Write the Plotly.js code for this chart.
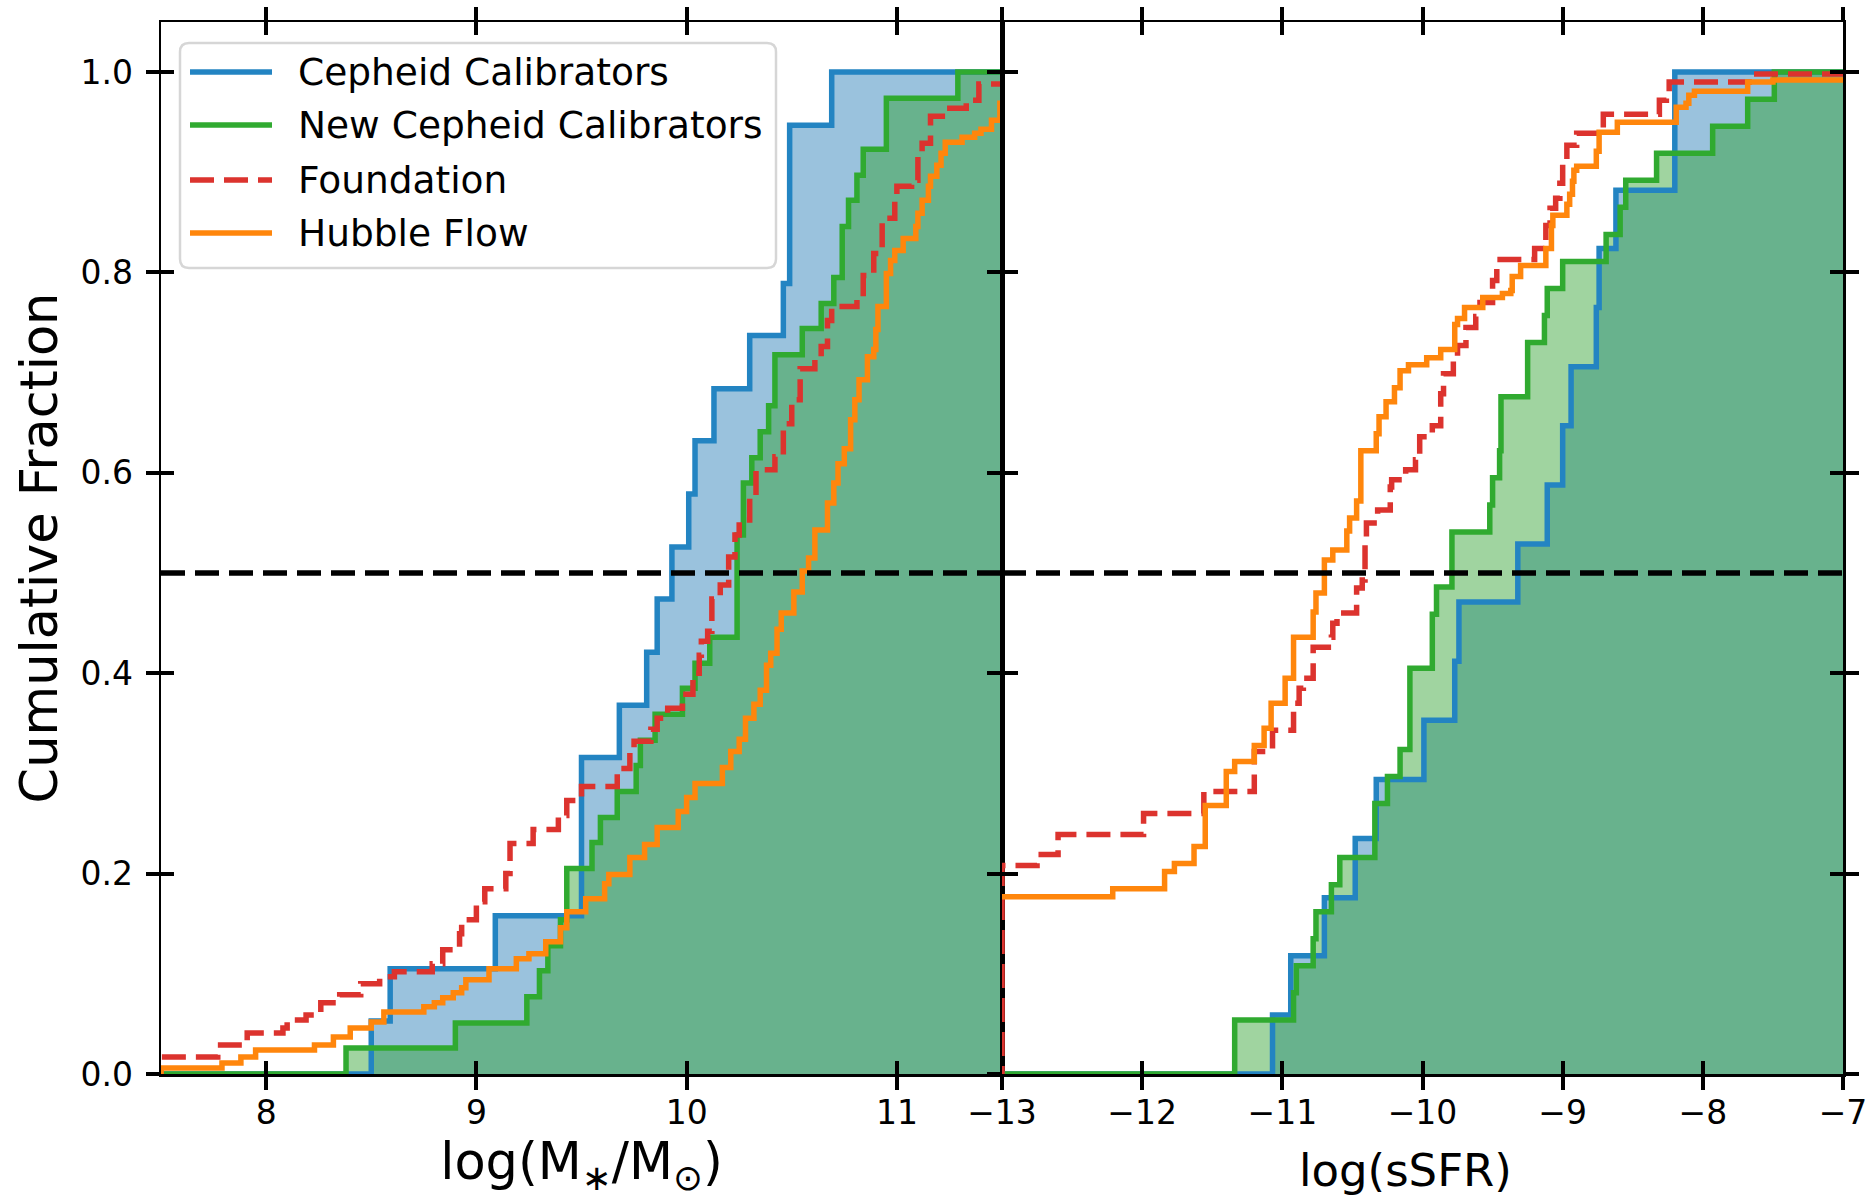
<!DOCTYPE html>
<html>
<head>
<meta charset="utf-8">
<script src="https://cdn.plot.ly/plotly-3.0.1.min.js"></script>
<style>
  html, body { margin: 0; padding: 0; background: #ffffff; }
  #chart { width: 1872px; height: 1198px; }
</style>
</head>
<body>
<div id="chart"></div>
<script>
// ---- sample names ----
const seriesNames = ['Cepheid Calibrators', 'New Cepheid Calibrators', 'Foundation', 'Hubble Flow'];

// ---- stellar mass CDFs: jump positions (log M*/Msun) and cumulative fraction after each jump ----
const massCephX = [8.50, 8.59, 9.09, 9.50, 9.68, 9.81, 9.86, 9.93, 10.01, 10.04, 10.13, 10.30, 10.46, 10.49, 10.69];
const massCephY = [0.053, 0.105, 0.158, 0.316, 0.368, 0.421, 0.474, 0.526, 0.579, 0.632, 0.684, 0.737, 0.789, 0.947, 1.000];

const massNewX = [8.38, 8.90, 9.24, 9.30, 9.34, 9.40, 9.43, 9.55, 9.59, 9.67, 9.76, 9.78, 9.85, 9.98, 10.04, 10.11,
                  10.24, 10.27, 10.31, 10.35, 10.39, 10.42, 10.55, 10.64, 10.70, 10.74, 10.77, 10.81, 10.84, 10.95, 11.29];
const massNewY = [0.026, 0.051, 0.077, 0.103, 0.128, 0.154, 0.205, 0.231, 0.256, 0.282, 0.308, 0.333, 0.359, 0.385, 0.410, 0.436,
                  0.538, 0.590, 0.615, 0.641, 0.667, 0.718, 0.744, 0.769, 0.795, 0.846, 0.872, 0.897, 0.923, 0.974, 1.000];

const massFoundX = [7.50, 7.77, 7.91, 8.08, 8.10, 8.19, 8.26, 8.35, 8.45, 8.54, 8.61, 8.79, 8.84, 8.92, 8.93, 9.00,
                    9.04, 9.14, 9.16, 9.27, 9.39, 9.43, 9.50, 9.67, 9.73, 9.75, 9.83, 9.86, 9.91, 9.98, 10.03, 10.06,
                    10.07, 10.10, 10.12, 10.16, 10.20, 10.23, 10.25, 10.30, 10.33, 10.42, 10.46, 10.50, 10.54, 10.61,
                    10.64, 10.67, 10.69, 10.81, 10.84, 10.89, 10.93, 10.99, 11.00, 11.07, 11.10, 11.12, 11.16, 11.23,
                    11.33, 11.39];
const massFoundY = [0.017, 0.029, 0.041, 0.046, 0.054, 0.059, 0.071, 0.079, 0.090, 0.097, 0.102, 0.110, 0.124, 0.140, 0.154, 0.172,
                    0.185, 0.200, 0.230, 0.244, 0.258, 0.273, 0.287, 0.305, 0.322, 0.332, 0.344, 0.355, 0.365, 0.379, 0.400, 0.418,
                    0.432, 0.442, 0.474, 0.488, 0.516, 0.538, 0.553, 0.576, 0.603, 0.616, 0.649, 0.673, 0.704, 0.716,
                    0.726, 0.752, 0.766, 0.776, 0.797, 0.819, 0.854, 0.872, 0.886, 0.892, 0.916, 0.929, 0.956, 0.964,
                    0.972, 0.988];

const massHubbleX = [7.50, 7.79, 7.88, 7.95, 8.23, 8.32, 8.40, 8.50, 8.56, 8.75, 8.80, 8.84, 8.89, 8.93, 8.95, 9.06,
                     9.19, 9.25, 9.33, 9.40, 9.43, 9.52, 9.61, 9.63, 9.73, 9.80, 9.86, 9.96, 10.00, 10.04, 10.17, 10.21,
                     10.25, 10.28, 10.32, 10.35, 10.38, 10.40, 10.43, 10.45, 10.51, 10.55, 10.58, 10.61, 10.67, 10.70,
                     10.72, 10.75, 10.78, 10.80, 10.82, 10.86, 10.89, 10.90, 10.91, 10.95, 10.97, 10.99, 11.03, 11.09,
                     11.10, 11.12, 11.15, 11.16, 11.19, 11.21, 11.23, 11.31, 11.37, 11.40, 11.45, 11.49];
const massHubbleY = [0.006, 0.011, 0.017, 0.024, 0.029, 0.037, 0.046, 0.052, 0.062, 0.067, 0.071, 0.076, 0.081, 0.086, 0.094, 0.105,
                     0.115, 0.120, 0.132, 0.146, 0.162, 0.175, 0.190, 0.199, 0.216, 0.229, 0.246, 0.262, 0.276, 0.290, 0.306, 0.322,
                     0.334, 0.355, 0.369, 0.383, 0.408, 0.420, 0.444, 0.460, 0.481, 0.502, 0.515, 0.543, 0.570, 0.590,
                     0.609, 0.624, 0.653, 0.673, 0.693, 0.716, 0.723, 0.743, 0.766, 0.799, 0.812, 0.822, 0.834, 0.846,
                     0.859, 0.872, 0.886, 0.896, 0.907, 0.919, 0.930, 0.935, 0.939, 0.943, 0.952, 0.969];

// ---- specific star formation rate CDFs: jump positions (log sSFR) and cumulative fraction ----
const ssfrCephX = [-11.07, -10.94, -10.70, -10.48, -10.33, -9.99, -9.77, -9.74, -9.32, -9.11, -9.00, -8.94, -8.76, -8.74, -8.62, -8.20];
const ssfrCephY = [0.059, 0.118, 0.176, 0.235, 0.294, 0.353, 0.412, 0.471, 0.529, 0.588, 0.647, 0.706, 0.765, 0.824, 0.882, 1.000];

const ssfrNewX = [-11.34, -10.92, -10.90, -10.78, -10.76, -10.65, -10.59, -10.34, -10.25, -10.16, -10.09, -9.93, -9.90, -9.79, -9.52,
                  -9.50, -9.45, -9.44, -9.25, -9.13, -9.11, -9.00, -8.69, -8.59, -8.55, -8.33, -7.93, -7.68, -7.49];
const ssfrNewY = [0.054, 0.081, 0.108, 0.135, 0.162, 0.189, 0.216, 0.270, 0.297, 0.324, 0.405, 0.459, 0.486, 0.541, 0.568,
                  0.595, 0.622, 0.676, 0.730, 0.757, 0.784, 0.811, 0.838, 0.865, 0.892, 0.919, 0.946, 0.973, 1.000];

const ssfrFoundX = [-13.00, -12.75, -12.60, -11.99, -11.56, -11.20, -11.07, -10.92, -10.88, -10.85, -10.78, -10.65, -10.64, -10.61,
                    -10.47, -10.43, -10.41, -10.40, -10.32, -10.23, -10.22, -10.12, -10.05, -10.02, -9.93, -9.87, -9.85, -9.78,
                    -9.75, -9.69, -9.62, -9.59, -9.50, -9.47, -9.20, -9.12, -9.09, -9.05, -9.02, -9.00, -8.97, -8.90, -8.71,
                    -8.31, -8.26, -8.24, -7.67];
const ssfrFoundY = [0.208, 0.219, 0.239, 0.260, 0.282, 0.322, 0.343, 0.370, 0.385, 0.395, 0.426, 0.436, 0.450, 0.460,
                    0.485, 0.493, 0.530, 0.550, 0.563, 0.586, 0.593, 0.603, 0.613, 0.636, 0.647, 0.679, 0.699, 0.712,
                    0.727, 0.745, 0.756, 0.770, 0.792, 0.813, 0.824, 0.847, 0.864, 0.874, 0.889, 0.912, 0.927, 0.939, 0.958,
                    0.972, 0.978, 0.990, 0.998];

const ssfrHubbleX = [-13.10, -12.21, -11.84, -11.77, -11.63, -11.55, -11.40, -11.34, -11.20, -11.13, -11.08, -10.98, -10.92, -10.78,
                     -10.76, -10.70, -10.64, -10.54, -10.52, -10.47, -10.44, -10.33, -10.31, -10.26, -10.20, -10.16, -10.10,
                     -9.97, -9.87, -9.77, -9.75, -9.70, -9.57, -9.43, -9.37, -9.36, -9.30, -9.12, -9.08, -9.07, -8.97, -8.95,
                     -8.93, -8.92, -8.90, -8.76, -8.74, -8.61, -8.19, -8.12, -8.10, -8.06, -7.68, -7.50];
const ssfrHubbleY = [0.177, 0.185, 0.202, 0.210, 0.227, 0.268, 0.302, 0.312, 0.328, 0.345, 0.370, 0.395, 0.436, 0.461,
                     0.480, 0.513, 0.523, 0.542, 0.555, 0.572, 0.622, 0.639, 0.656, 0.671, 0.685, 0.702, 0.708,
                     0.715, 0.723, 0.748, 0.754, 0.765, 0.775, 0.779, 0.782, 0.796, 0.807, 0.824, 0.847, 0.857, 0.868, 0.878,
                     0.891, 0.902, 0.906, 0.921, 0.940, 0.950, 0.965, 0.969, 0.977, 0.981, 0.990, 0.992];

// ---- axes ----
const massRange = [7.5, 11.5];
const ssfrRange = [-13, -7];
const fracRange = [0, 1.05];
const massTicks = [8, 9, 10, 11];
const massTickText = ['8', '9', '10', '11'];
const ssfrTicks = [-13, -12, -11, -10, -9, -8, -7];
const ssfrTickText = ['\u221213', '\u221212', '\u221211', '\u221210', '\u22129', '\u22128', '\u22127'];
const fracTicks = [0, 0.2, 0.4, 0.6, 0.8, 1.0];
const fracTickText = ['0.0', '0.2', '0.4', '0.6', '0.8', '1.0'];
const medianLevel = 0.5;
const massTitle = 'log(M<sub>\u2217</sub>/M<sub>\u2299</sub>)';
const ssfrTitle = 'log(sSFR)';
const fracTitle = 'Cumulative Fraction';

// ---- styling ----
const FONT = 'DejaVu Sans, Verdana, sans-serif';
const colors = ['#2384c2', '#30aa30', '#dc332e', '#ff860c'];
const fillColors = ['rgba(31,119,180,0.45)', 'rgba(44,160,44,0.45)'];
const LINE_W = 5.5;
const DASH = '24px,10px';

// Build a post-step CDF path that starts at zero left of the axis and runs off the right edge.
function cdfPath(jumps, levels, range) {
  const pad = (range[1] - range[0]) * 0.1;
  return {
    x: [range[0] - pad].concat(jumps, [range[1] + pad]),
    y: [0].concat(levels, [levels[levels.length - 1]])
  };
}

function fillTrace(path, color, xa, ya) {
  return {
    type: 'scatter', mode: 'lines', x: path.x, y: path.y, xaxis: xa, yaxis: ya,
    line: { shape: 'hv', width: 0, color: color }, fill: 'tozeroy', fillcolor: color,
    hoverinfo: 'skip', showlegend: false
  };
}

function lineTrace(path, name, color, dash, xa, ya) {
  return {
    type: 'scatter', mode: 'lines', name: name, x: path.x, y: path.y, xaxis: xa, yaxis: ya,
    line: { shape: 'hv', width: LINE_W, color: color, dash: dash },
    showlegend: false
  };
}

const mCeph = cdfPath(massCephX, massCephY, massRange);
const mNew = cdfPath(massNewX, massNewY, massRange);
const mFound = cdfPath(massFoundX, massFoundY, massRange);
const mHub = cdfPath(massHubbleX, massHubbleY, massRange);
const sCeph = cdfPath(ssfrCephX, ssfrCephY, ssfrRange);
const sNew = cdfPath(ssfrNewX, ssfrNewY, ssfrRange);
const sFound = cdfPath(ssfrFoundX, ssfrFoundY, ssfrRange);
const sHub = cdfPath(ssfrHubbleX, ssfrHubbleY, ssfrRange);

const traces = [
  // shaded calibrator distributions (under every line)
  fillTrace(mCeph, fillColors[0], 'x', 'y'),
  fillTrace(mNew, fillColors[1], 'x', 'y'),
  fillTrace(sCeph, fillColors[0], 'x2', 'y2'),
  fillTrace(sNew, fillColors[1], 'x2', 'y2'),
  // step lines
  lineTrace(mCeph, seriesNames[0], colors[0], 'solid', 'x', 'y'),
  lineTrace(mNew, seriesNames[1], colors[1], 'solid', 'x', 'y'),
  lineTrace(mFound, seriesNames[2], colors[2], DASH, 'x', 'y'),
  lineTrace(mHub, seriesNames[3], colors[3], 'solid', 'x', 'y'),
  lineTrace(sCeph, seriesNames[0], colors[0], 'solid', 'x2', 'y2'),
  lineTrace(sNew, seriesNames[1], colors[1], 'solid', 'x2', 'y2'),
  lineTrace(sFound, seriesNames[2], colors[2], DASH, 'x2', 'y2'),
  lineTrace(sHub, seriesNames[3], colors[3], 'solid', 'x2', 'y2'),
  // empty traces so the inward-tick overlay axes get drawn
  { type: 'scatter', x: [], y: [], xaxis: 'x3', yaxis: 'y3', showlegend: false, hoverinfo: 'skip' },
  { type: 'scatter', x: [], y: [], xaxis: 'x4', yaxis: 'y4', showlegend: false, hoverinfo: 'skip' }
];

const TICK_LEN = 13, TICK_W = 4;
const tickFont = { family: FONT, size: 33, color: '#000' };
const baseAxis = {
  showgrid: false, zeroline: false, showline: true, linecolor: '#000', linewidth: 2.5,
  ticks: 'outside', ticklen: TICK_LEN, tickwidth: TICK_W, tickcolor: '#000', mirror: 'ticks',
  tickfont: tickFont, tickmode: 'array', fixedrange: true
};
const innerAxis = {
  showgrid: false, zeroline: false, showline: false, showticklabels: false,
  ticks: 'inside', ticklen: TICK_LEN, tickwidth: TICK_W, tickcolor: '#000', mirror: 'ticks',
  tickmode: 'array', fixedrange: true
};

// ---- hand-built legend (rounded frame, long line samples) ----
const PLOT_L = 161, PLOT_R = 1843, PLOT_T = 22, PLOT_B = 1074;
const px2x = p => (p - PLOT_L) / (PLOT_R - PLOT_L);
const py2y = p => (PLOT_B - p) / (PLOT_B - PLOT_T);
function roundedRect(x0, y0, x1, y1, r) {
  const X0 = px2x(x0), X1 = px2x(x1), Y0 = py2y(y0), Y1 = py2y(y1);
  const rx = r / (PLOT_R - PLOT_L), ry = r / (PLOT_B - PLOT_T);
  return `M${X0 + rx},${Y0} L${X1 - rx},${Y0} Q${X1},${Y0} ${X1},${Y0 - ry} L${X1},${Y1 + ry} ` +
         `Q${X1},${Y1} ${X1 - rx},${Y1} L${X0 + rx},${Y1} Q${X0},${Y1} ${X0},${Y1 + ry} L${X0},${Y0 - ry} ` +
         `Q${X0},${Y0} ${X0 + rx},${Y0} Z`;
}
const legendRows = [72, 125, 180, 233];
const legendDash = ['solid', 'solid', DASH, 'solid'];

const shapes = [
  { type: 'line', xref: 'x domain', yref: 'y', x0: 0, x1: 1, y0: medianLevel, y1: medianLevel,
    line: { color: '#000', width: 5.5, dash: DASH }, layer: 'above' },
  { type: 'line', xref: 'x2 domain', yref: 'y2', x0: 0, x1: 1, y0: medianLevel, y1: medianLevel,
    line: { color: '#000', width: 5.5, dash: DASH }, layer: 'above' },
  { type: 'path', xref: 'paper', yref: 'paper', path: roundedRect(180, 43, 776, 268, 9),
    fillcolor: 'rgba(255,255,255,0.8)', line: { color: '#d6d6d6', width: 2.5 }, layer: 'above' }
];
const annotations = [];
legendRows.forEach((row, i) => {
  shapes.push({ type: 'line', xref: 'paper', yref: 'paper', x0: px2x(190), x1: px2x(272), y0: py2y(row), y1: py2y(row),
                line: { color: colors[i], width: LINE_W, dash: legendDash[i] }, layer: 'above' });
  annotations.push({ xref: 'paper', yref: 'paper', x: px2x(296), y: py2y(row), xanchor: 'left', yanchor: 'middle',
                     text: seriesNames[i], showarrow: false, font: { family: FONT, size: 37.5, color: '#000' } });
});
// sSFR axis label, set slightly left of the panel centre
annotations.push({ xref: 'paper', yref: 'paper', x: px2x(1405), y: py2y(1170), xanchor: 'center', yanchor: 'middle',
                   text: ssfrTitle, showarrow: false, font: { family: FONT, size: 45, color: '#000' } });

const layout = {
  width: 1872, height: 1198,
  margin: { l: PLOT_L, r: 1872 - PLOT_R, t: PLOT_T, b: 1198 - PLOT_B, pad: 0 },
  paper_bgcolor: '#ffffff', plot_bgcolor: '#ffffff',
  showlegend: false,
  font: { family: FONT, color: '#000' },
  xaxis: Object.assign({}, baseAxis, {
    domain: [0, 0.5], range: massRange, tickvals: massTicks, ticktext: massTickText, anchor: 'y',
    ticklabelstandoff: -5,
    title: { text: massTitle, font: { family: FONT, size: 51 }, standoff: 36 }
  }),
  yaxis: Object.assign({}, baseAxis, {
    domain: [0, 1], range: fracRange, tickvals: fracTicks, ticktext: fracTickText, anchor: 'x',
    ticklabelstandoff: 6,
    title: { text: fracTitle, font: { family: FONT, size: 51 }, standoff: 7 }
  }),
  xaxis2: Object.assign({}, baseAxis, {
    domain: [0.5, 1], range: ssfrRange, tickvals: ssfrTicks, ticktext: ssfrTickText, anchor: 'y2',
    ticklabelstandoff: -5
  }),
  yaxis2: Object.assign({}, baseAxis, {
    domain: [0, 1], range: fracRange, tickvals: fracTicks, showticklabels: false, anchor: 'x2'
  }),
  xaxis3: Object.assign({}, innerAxis, { overlaying: 'x', anchor: 'y3', range: massRange, tickvals: massTicks }),
  yaxis3: Object.assign({}, innerAxis, { overlaying: 'y', anchor: 'x3', range: fracRange, tickvals: fracTicks }),
  xaxis4: Object.assign({}, innerAxis, { overlaying: 'x2', anchor: 'y4', range: ssfrRange, tickvals: ssfrTicks }),
  yaxis4: Object.assign({}, innerAxis, { overlaying: 'y2', anchor: 'x4', range: fracRange, tickvals: fracTicks }),
  shapes: shapes,
  annotations: annotations
};

Plotly.newPlot('chart', traces, layout, { staticPlot: true, displayModeBar: false });
</script>
</body>
</html>
